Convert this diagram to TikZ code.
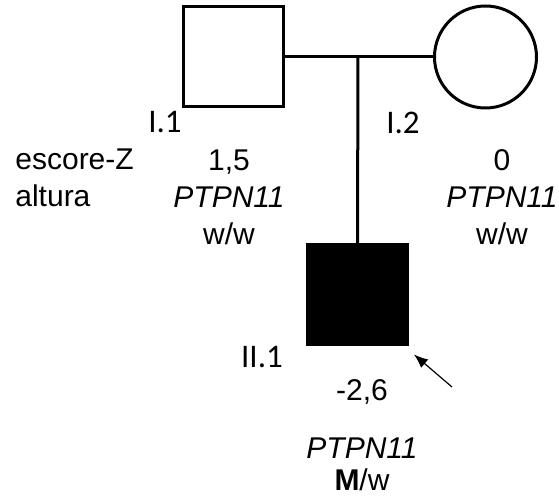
\documentclass[tikz,border=0pt]{standalone}
\usepackage{fontspec}
\setmainfont{Liberation Sans}
\newfontfamily\idfont{Carlito}
\usetikzlibrary{arrows.meta, positioning, calc}

\tikzset{
  male/.style={draw, line width=1.5pt, minimum size=50pt, inner sep=0pt},
  female/.style={draw, circle, line width=1.5pt, minimum size=51pt, inner sep=0pt},
  affected/.style={fill=black},
  idlabel/.style={font=\idfont\fontsize{16.5}{18}\selectfont, inner sep=0pt},
  infolabel/.style={font=\fontsize{15}{18.5}\selectfont, inner sep=0pt, align=center, anchor=base},
  link/.style={line width=1.5pt}
}

\begin{document}
\begin{tikzpicture}[x=0.5pt, y=-0.5pt]
\useasboundingbox (0,0) rectangle (559,497);

% generation I
\node[male] (father) at (233.5,57) {};
\node[female] (mother) at (485.5,57) {};
\coordinate (mid) at (358,57);

% generation II
\node[male, affected] (child) at (357.5,295) {};

\draw[link] (father.east) -- (mother.west);
\draw[link] (mid) -- (child.north);

% proband arrow
\coordinate (arrtail) at (452,387);
\coordinate (arrtip) at ($(child.south east)+(5,8)$);
\draw[line width=0.6pt, -{Latex[length=7pt, width=5.5pt]}] (arrtail) -- (arrtip);

% identifiers
\node[idlabel] (idfather) at (165,122) {I.1};
\node[idlabel] (idmother) at (403,123) {I.2};
\node[idlabel] (idchild) at (262,357) {II.1};

% values (anchor = baseline of last line)
\node[infolabel, align=left, anchor=base west] (zscore) at (15,207) {escore-Z\\altura};
\node[infolabel] (infofather) at (229,245) {1,5\\\textit{PTPN11}\\w/w};
\node[infolabel] (infomother) at (502,245) {0\\\textit{PTPN11}\\w/w};
\node[infolabel, font=\fontsize{15}{16}\selectfont] (infochild) at (362,491) {-2,6\\[13pt]\textit{PTPN11}\\\textbf{M}/w};
\end{tikzpicture}
\end{document}
